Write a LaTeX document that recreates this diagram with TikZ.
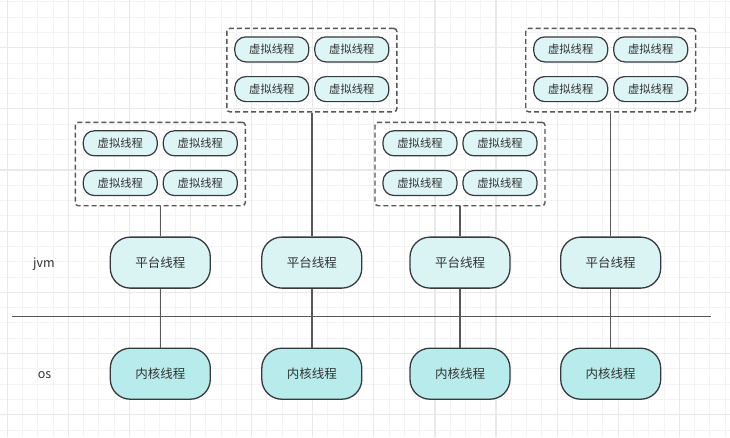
\documentclass[tikz,border=0pt]{standalone}
\usepackage{fontspec}
\newfontfamily\cjk{Noto Sans CJK SC}
\definecolor{gridminor}{HTML}{F3F3F3}
\definecolor{gridmajor}{HTML}{E9E9E9}
\definecolor{vfill}{HTML}{DDF5F5}
\definecolor{pfill}{HTML}{DAF4F4}
\definecolor{kfill}{HTML}{B8EBEB}
\definecolor{border}{HTML}{36393D}
\definecolor{wire}{HTML}{575757}
\definecolor{txt}{HTML}{333333}
\tikzset{
  vthread/.style={draw=border, fill=vfill, line width=1.2pt, rounded corners=11pt,
    minimum width=74pt, minimum height=25pt, inner sep=0pt, text=txt,
    font=\cjk\fontsize{11.3}{13}\selectfont},
  pthread/.style={draw=border, fill=pfill, line width=1.3pt, rounded corners=20pt,
    minimum width=100pt, minimum height=51pt, inner sep=0pt, text=txt,
    font=\cjk\fontsize{12.5}{14}\selectfont},
  kthread/.style={pthread, fill=kfill},
  cluster/.style={draw=wire, line width=1.4pt, dash pattern=on 5pt off 3pt,
    rounded corners=3pt, minimum width=170pt, minimum height=83.4pt, inner sep=0pt},
  wireline/.style={draw=wire, line width=1.5pt},
  layerlabel/.style={text=txt, font=\cjk\fontsize{12.5}{14}\selectfont, inner sep=0pt}
}
\begin{document}
\begin{tikzpicture}[x=1pt,y=-1pt]
\useasboundingbox (0,0) rectangle (730,437);
\fill[white] (0,0) rectangle (730,437);
% grid
\foreach \k in {-1,...,48} {
  \pgfmathsetmacro{\gx}{7.2+\k*15.275}
  \draw[gridminor, line width=1pt] (\gx,0) -- (\gx,437);
}
\foreach \k in {-1,...,29} {
  \pgfmathsetmacro{\gy}{1.9+\k*15.29}
  \draw[gridminor, line width=1pt] (0,\gy) -- (730,\gy);
}
\foreach \k in {0,...,11} {
  \pgfmathsetmacro{\gx}{7.2+\k*61.1}
  \draw[gridmajor, line width=1.2pt] (\gx,0) -- (\gx,437);
}
\foreach \k in {-1,...,7} {
  \pgfmathsetmacro{\gy}{47.7+\k*61.15}
  \draw[gridmajor, line width=1.2pt] (0,\gy) -- (730,\gy);
}
% separator
\coordinate (sepL) at (12,316.7);
\coordinate (sepR) at (710.7,316.7);
\draw[wireline] (sepL) -- (sepR);
% labels
\node[layerlabel] (jvm) at (44,264) {jvm};
\node[layerlabel] (os) at (44.5,375) {os};
% columns
\foreach \i/\x/\cy in {1/160.3/164, 2/311.8/70.1, 3/460/164, 4/610.7/70.1} {
  \node[cluster] (c\i) at (\x,\cy) {};
  \node[vthread] (v\i a) at (\x-40,\cy-20.7) {虚拟线程};
  \node[vthread] (v\i b) at (\x+40,\cy-20.7) {虚拟线程};
  \node[vthread] (v\i c) at (\x-40,\cy+19) {虚拟线程};
  \node[vthread] (v\i d) at (\x+40,\cy+19) {虚拟线程};
  \node[pthread] (p\i) at (\x,262.6) {平台线程};
  \node[kthread] (k\i) at (\x,373.7) {内核线程};
  \draw[wireline] (c\i.south) -- (p\i.north);
  \draw[wireline] (p\i.south) -- (k\i.north);
}
\end{tikzpicture}
\end{document}
